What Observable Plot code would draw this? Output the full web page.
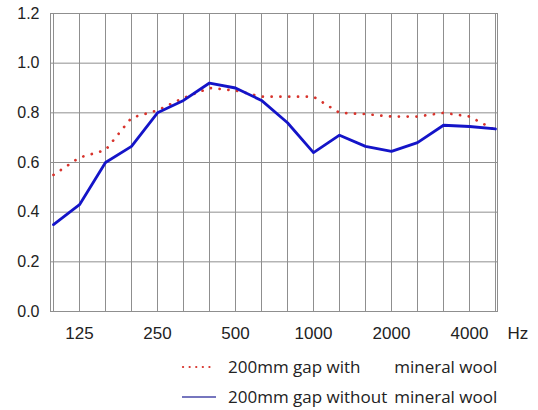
<!DOCTYPE html>
<html>
<head>
<meta charset="utf-8">
<script src="https://cdn.jsdelivr.net/npm/d3@7"></script>
<script src="https://cdn.jsdelivr.net/npm/@observablehq/plot@0.6"></script>
<style>
  html, body { margin: 0; padding: 0; background: #fff; }
  #chart svg { display: block; }
  #chart svg text { font-family: "Liberation Sans", Arial, sans-serif !important; }
  .legend { display: grid; width: max-content; grid-template-columns: 36px max-content max-content; column-gap: 0; margin: 7px 0 0 180px;
    font-family: "Open Sans", sans-serif; font-size: 17px; color: #222; }
  .legend > div { height: 30px; line-height: 30px; white-space: nowrap; }
  .legend .sw { display: flex; align-items: center; }
  .legend .t1 { padding-left: 12px; padding-right: 7px; }
</style>
</head>
<body>
<div id="chart"></div>
<script>
const freqs = [100,125,160,200,250,315,400,500,630,800,1000,1250,1600,2000,2500,3150,4000,5000];
const tickLabels = [125,250,500,1000,2000,4000];
const withWool = [0.55,0.62,0.65,0.78,0.81,0.86,0.90,0.89,0.865,0.865,0.865,0.80,0.795,0.785,0.785,0.80,0.785,0.73];
const withoutWool = [0.35,0.43,0.60,0.665,0.80,0.85,0.92,0.90,0.85,0.76,0.64,0.71,0.665,0.645,0.68,0.75,0.745,0.735];
const yTicks = [0,0.2,0.4,0.6,0.8,1.0,1.2];
const seriesNames = ["200mm gap with", "200mm gap without"];
const seriesSuffix = "mineral wool";

const dWith = freqs.map((f,i) => ({f, v: withWool[i]}));
const dWithout = freqs.map((f,i) => ({f, v: withoutWool[i]}));

const RED = "#d8332c", BLUE = "#1414c8", GRID = "#8f8f8f";

const chart = Plot.plot({
  width: 538,
  height: 345,
  marginTop: 13,
  marginBottom: 34,
  marginLeft: 50,
  marginRight: 41,
  style: { fontFamily: "Liberation Sans, Arial, sans-serif", color: "#222", background: "#fff" },
  x: { type: "point", domain: freqs, padding: 0 },
  y: { domain: [0, 1.2] },
  marks: [
    Plot.gridX(freqs, { stroke: GRID, strokeOpacity: 1 }),
    Plot.gridY(yTicks, { stroke: GRID, strokeOpacity: 1 }),
    Plot.frame({ stroke: GRID }),
    Plot.axisX(tickLabels, { tickSize: 0, tickPadding: 15, fontSize: 17, label: null, tickFormat: d => String(d) }),
    Plot.axisY(yTicks, { tickSize: 0, tickPadding: 11, fontSize: 16, tickFormat: d3.format(".1f"), label: null }),
    Plot.text(["Hz"], { frameAnchor: "bottom-right", dx: 10, dy: 15, textAnchor: "start", lineAnchor: "top", fontSize: 17, fill: "#222" }),
    Plot.line(dWith, { x: "f", y: "v", stroke: RED, strokeWidth: 2.7, strokeDasharray: "0.1,8.7", strokeLinecap: "round" }),
    Plot.line(dWithout, { x: "f", y: "v", stroke: BLUE, strokeWidth: 2.8 })
  ]
});
document.getElementById("chart").append(chart);

const legend = document.createElement("div");
legend.className = "legend";
const swRed = `<svg width="38" height="10"><line x1="3" y1="5" x2="36" y2="5" stroke="${RED}" stroke-width="2.2" stroke-dasharray="0.1,6.5" stroke-linecap="round"/></svg>`;
const swBlue = `<svg width="38" height="10"><line x1="2" y1="5" x2="38" y2="5" stroke="#4848a8" stroke-width="1.4"/></svg>`;
legend.innerHTML =
  `<div class="sw">${swRed}</div><div class="t1">${seriesNames[0]}</div><div>${seriesSuffix}</div>` +
  `<div class="sw">${swBlue}</div><div class="t1">${seriesNames[1]}</div><div>${seriesSuffix}</div>`;
document.body.append(legend);
</script>
</body>
</html>
